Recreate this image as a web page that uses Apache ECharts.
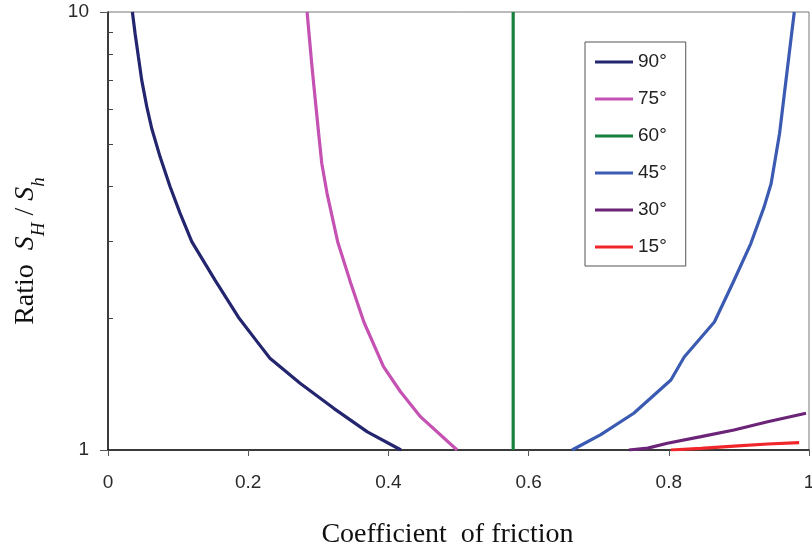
<!DOCTYPE html>
<html>
<head>
<meta charset="utf-8">
<script src="https://cdn.jsdelivr.net/npm/echarts@6/dist/echarts.min.js"></script>
<style>html,body{margin:0;padding:0;background:#fff}#c{width:812px;height:552px}</style>
</head>
<body>
<div id="c"></div>
<script>
// Series data: [coefficient of friction, S_H/S_h]
const s90 = [[0.0348,10],[0.0386,8.94],[0.0433,7.91],[0.0481,6.99],[0.0553,6.08],[0.0624,5.42],[0.0743,4.67],[0.0886,3.99],[0.1029,3.47],[0.1195,2.99],[0.1529,2.44],[0.186,2.01],[0.2124,1.77],[0.231,1.62],[0.274,1.42],[0.322,1.245],[0.37,1.10],[0.418,1.0]];
const s75 = [[0.284,10],[0.2876,8.63],[0.291,7.5],[0.2957,6.3],[0.3005,5.28],[0.305,4.51],[0.3124,3.86],[0.3276,2.99],[0.3457,2.42],[0.365,1.96],[0.393,1.55],[0.417,1.36],[0.446,1.19],[0.498,1.0]];
const s60 = [[0.578,1],[0.578,10]];
const s45 = [[0.662,1],[0.703,1.084],[0.750,1.213],[0.803,1.445],[0.822,1.63],[0.865,1.96],[0.891,2.40],[0.917,2.96],[0.936,3.59],[0.946,4.06],[0.958,5.28],[0.9695,7.5],[0.979,10]];
const s30 = [[0.743,1],[0.77,1.01],[0.798,1.036],[0.846,1.073],[0.893,1.111],[0.941,1.16],[0.9957,1.213]];
const s15 = [[0.803,1],[0.846,1.009],[0.893,1.021],[0.941,1.032],[0.986,1.039]];
const seriesNames = ['90°','75°','60°','45°','30°','15°'];
const seriesColors = ['#23256e','#c551b3','#16803c','#3b5bb3','#6b2477','#f0262a'];
const xTicks = [0,0.2,0.4,0.6,0.8,1];
const yMajor = [1,10];
const yMinor = [2,3,4,5,6,7,8,9];

const data = [s90,s75,s60,s45,s30,s15];
const chart = echarts.init(document.getElementById('c'), null, {renderer:'canvas'});
const serif = 'Liberation Serif';
const sans = 'Liberation Sans';
const gridLeft = 108, gridRight = 3;
const plotW = 812 - gridLeft - gridRight;
chart.setOption({
  animation:false,
  backgroundColor:'#fff',
  grid:{left:gridLeft,right:gridRight,top:12,bottom:102,show:true,borderColor:'#777',borderWidth:1,
        containLabel:false,outerBoundsMode:'none'},
  legend:{
    orient:'vertical', left:585, top:42,
    data:seriesNames.map(n=>({name:n,icon:'rect'})),
    itemWidth:38, itemHeight:3, itemGap:17,
    padding:[10,19,9,10],
    borderColor:'#555', borderWidth:1, backgroundColor:'#fff',
    textStyle:{fontFamily:sans,fontSize:19,color:'#222',lineHeight:20}
  },
  xAxis:{
    type:'value', min:0, max:1, interval:0.2,
    axisLine:{show:true,onZero:false,lineStyle:{color:'#111',width:1.5}},
    axisTick:{show:true,length:6,lineStyle:{color:'#555'}},
    axisLabel:{margin:23,fontFamily:sans,fontSize:19,color:'#2a2a2a',formatter:v=>String(v)},
    splitLine:{show:false},
    name:'Coefficient  of friction', nameLocation:'middle', nameGap:71,
    nameTextStyle:{fontFamily:serif,fontSize:28,color:'#111',padding:[0,22,0,0]}
  },
  yAxis:[{
    type:'log', logBase:10, min:1, max:10,
    axisLine:{show:true,lineStyle:{color:'#111',width:1.5}},
    axisTick:{show:true,length:8,customValues:yMajor,lineStyle:{color:'#555'}},
    axisLabel:{customValues:yMajor,margin:19,fontFamily:sans,fontSize:19,color:'#2a2a2a',padding:[5,0,0,0]},
    splitLine:{show:false},
    name:'{n|Ratio  }{i|S}{s|H}{n| / }{i|S}{s|h}',
    nameLocation:'middle', nameRotate:90, nameGap:67,
    nameTextStyle:{color:'#111',padding:[0,40,0,0],rich:{
      n:{fontFamily:serif,fontSize:28,lineHeight:29,verticalAlign:'top',color:'#111'},
      i:{fontFamily:serif,fontSize:28,fontStyle:'italic',lineHeight:29,verticalAlign:'top',color:'#111'},
      s:{fontFamily:serif,fontSize:19,fontStyle:'italic',lineHeight:19,padding:[17,0,0,0],verticalAlign:'top',color:'#111'}
    }}
  },{
    type:'log', logBase:10, min:1, max:10, position:'right', offset:-plotW,
    axisLine:{show:false},
    axisTick:{show:true,inside:false,length:5,customValues:yMinor,lineStyle:{color:'#444'}},
    axisLabel:{show:false},
    splitLine:{show:false}
  }],
  series:data.map((d,i)=>({
    name:seriesNames[i], type:'line', data:d, showSymbol:false, symbol:'none',
    smooth:false, lineStyle:{color:seriesColors[i],width:3.2}, itemStyle:{color:seriesColors[i]},
    z:3
  }))
});
</script>
</body>
</html>
